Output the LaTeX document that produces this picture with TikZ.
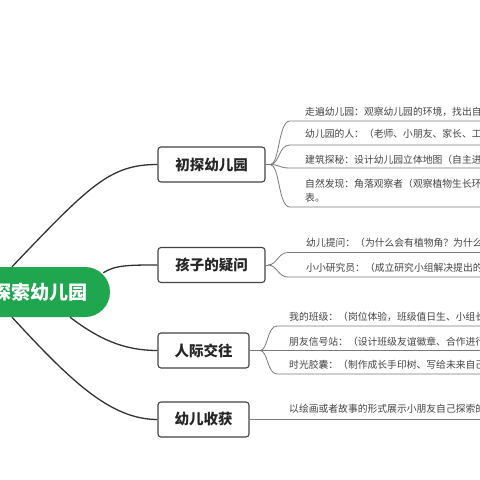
\documentclass[tikz,border=0pt]{standalone}
\usepackage{fontspec}
\setmainfont{Noto Sans CJK SC}
\definecolor{rootgreen}{HTML}{1FA64F}
\definecolor{boxline}{HTML}{444444}
\definecolor{subline}{HTML}{7A7A7A}
\definecolor{itemtext}{HTML}{444444}
\begin{document}
\begin{tikzpicture}[x=1pt,y=-1pt,
  mainbox/.style={draw=boxline, line width=1.1pt, rounded corners=3pt, fill=white,
    minimum height=35pt, inner sep=0pt, text=black!85,
    font=\fontsize{14.5}{16}\selectfont\bfseries},
  rootnode/.style={fill=rootgreen, rounded corners=25pt, minimum width=140pt,
    minimum height=50pt, inner sep=0pt, text=white,
    font=\fontsize{19}{22}\selectfont\bfseries},
  item/.style={anchor=west, inner sep=0pt, text=itemtext,
    font=\fontsize{9.8}{12}\selectfont},
  conn/.style={draw=black!80, line width=1.3pt},
  sub/.style={draw=subline, line width=0.8pt}]
\useasboundingbox (0,0) rectangle (480,480);
\fill[white] (0,0) rectangle (480,480);
\clip (0,0) rectangle (480,480);

% root
\node[rootnode] (root) at (40,292) {探索幼儿园};

% main boxes
\node[mainbox, minimum width=107pt] (n1) at (211.5,164.5) {初探幼儿园};
\node[mainbox, minimum width=107pt] (n2) at (211.5,265) {孩子的疑问};
\node[mainbox, minimum width=91pt] (n3) at (203.5,350.5) {人际交往};
\node[mainbox, minimum width=91pt] (n4) at (203.5,419.5) {幼儿收获};

% main connectors
\draw[conn] ([xshift=-28pt]root.north) .. controls (90,185) and (110,164.5) .. (n1.west);
\draw[conn] ([shift={(-7,6)}]root.north east) .. controls (115,265) and (130,265) .. (n2.west);
\draw[conn] ([xshift=30pt]root.south) .. controls (100,340) and (125,350.5) .. (n3.west);
\draw[conn] ([xshift=-28pt]root.south) .. controls (70,380) and (110,419.5) .. (n4.west);

% fan points and right end
\coordinate (f1) at (270,164.5);
\coordinate (f2) at (268,265);
\coordinate (f3) at (260,350.5);
\coordinate (rend) at (482,0);

% group 1
\coordinate (u11) at (290,121);
\coordinate (u12) at (290,145);
\coordinate (u13) at (290,168);
\coordinate (u14) at (290,207);
\draw[sub] (n1.east) -- (f1);
\foreach \u in {u11,u12,u13,u14}{
  \draw[sub] (f1) .. controls +(10,0) and +(-12,0) .. (\u) -- (\u -| rend);
}
\node[item] (i11) at (305,112) {走遍幼儿园：观察幼儿园的环境，找出自然};
\node[item] (i12) at (305,134) {幼儿园的人：（老师、小朋友、家长、工作人员）};
\node[item] (i13) at (305,159.5) {建筑探秘：设计幼儿园立体地图（自主进行）};
\node[item] (i14) at (305,184) {自然发现：角落观察者（观察植物生长环境）};
\node[item] (i15) at (305,198) {表。};

% group 2
\coordinate (u21) at (288,252.5);
\coordinate (u22) at (288,277);
\draw[sub] (n2.east) -- (f2);
\foreach \u in {u21,u22}{
  \draw[sub] (f2) .. controls +(9,0) and +(-10,0) .. (\u) -- (\u -| rend);
}
\node[item] (i21) at (306,243) {幼儿提问：（为什么会有植物角？为什么};
\node[item] (i22) at (306,268) {小小研究员：（成立研究小组解决提出的问题};

% group 3
\coordinate (u31) at (277,326);
\coordinate (u32) at (277,350.5);
\coordinate (u33) at (277,374);
\draw[sub] (n3.east) -- (f3);
\foreach \u in {u31,u32,u33}{
  \draw[sub] (f3) .. controls +(8,0) and +(-10,0) .. (\u) -- (\u -| rend);
}
\node[item] (i31) at (289,317) {我的班级：（岗位体验，班级值日生、小组长};
\node[item] (i32) at (289,342) {朋友信号站：（设计班级友谊徽章、合作进行};
\node[item] (i33) at (289,365) {时光胶囊：（制作成长手印树、写给未来自己};

% group 4
\draw[sub] (n4.east) -- (n4.east -| rend);
\node[item] (i41) at (289,409) {以绘画或者故事的形式展示小朋友自己探索的};
\end{tikzpicture}
\end{document}
